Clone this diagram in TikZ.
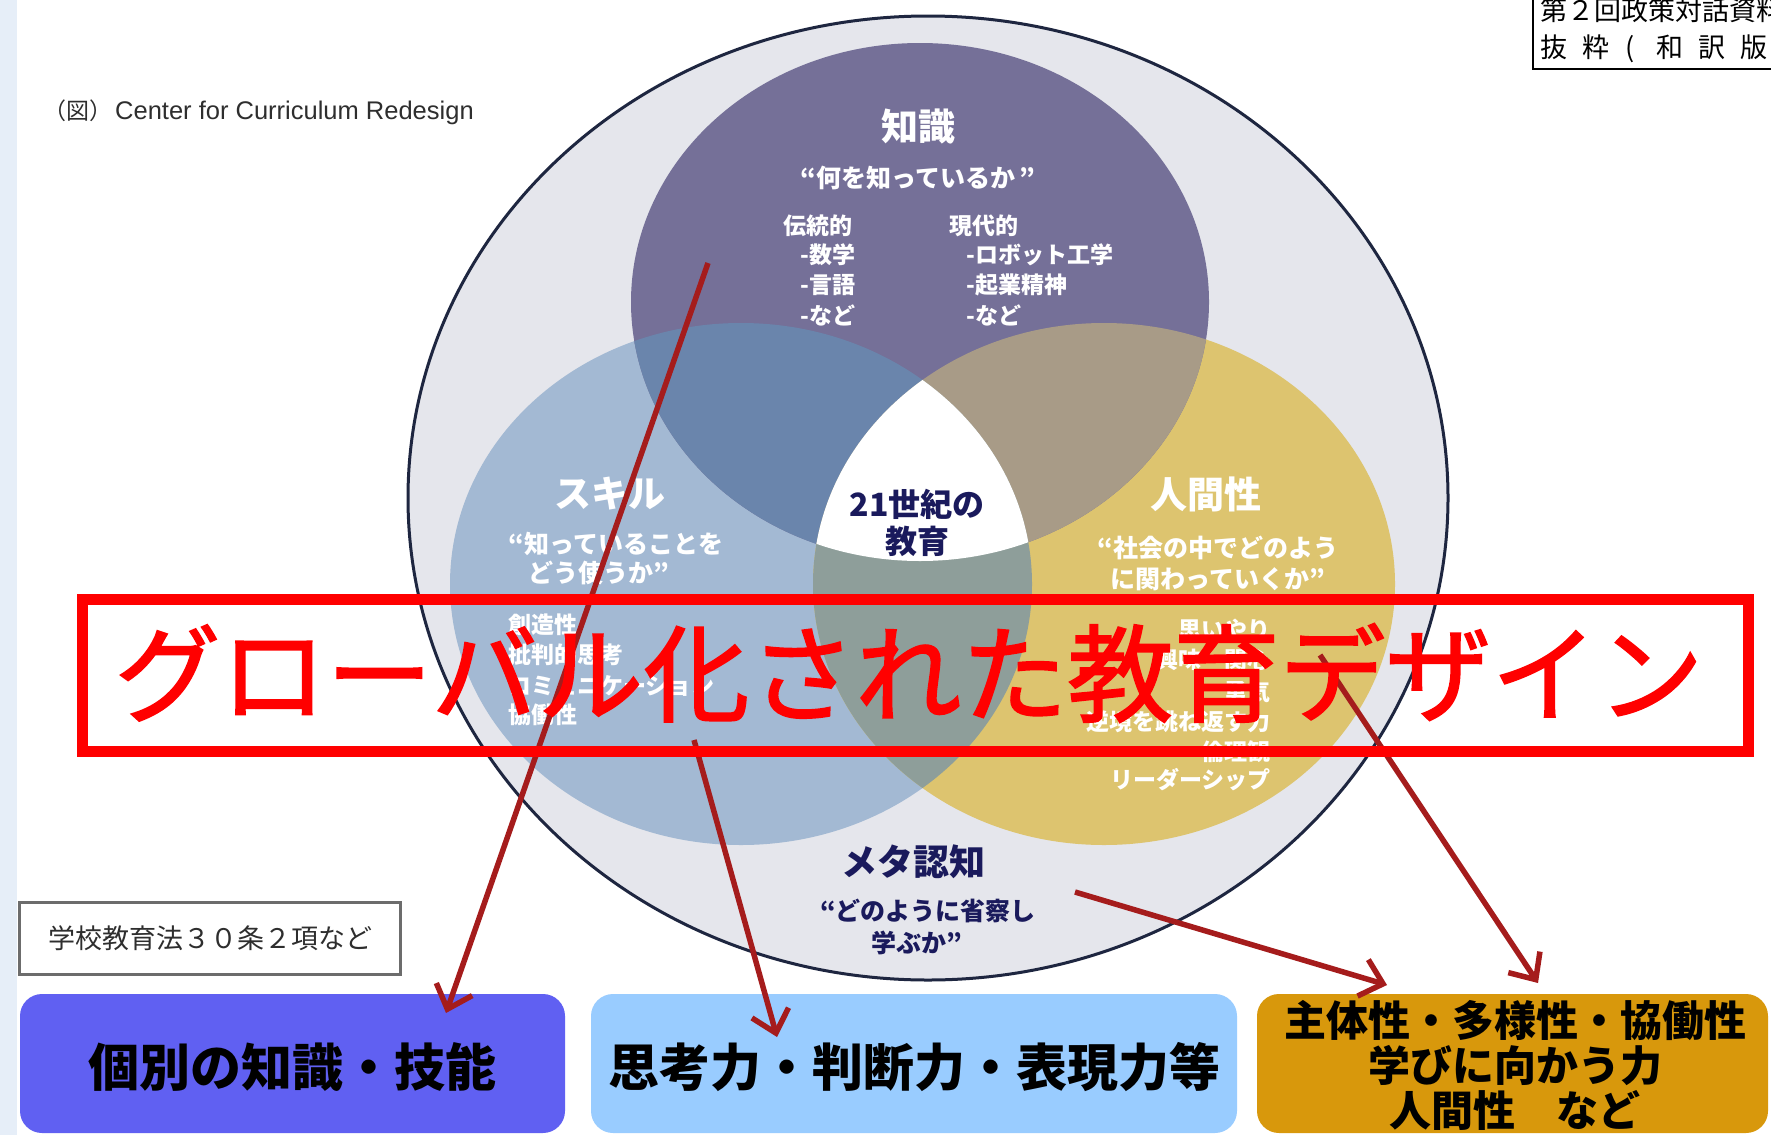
\documentclass[tikz,border=0pt]{standalone}
\usepackage{fontspec}
\setmainfont{Liberation Sans}
\newfontfamily\jp{Noto Sans CJK JP}
\newfontfamily\banfont[FakeBold=1.6]{Noto Sans CJK JP}
\usetikzlibrary{arrows.meta}
\definecolor{bigfill}{HTML}{E5E6EC}
\definecolor{bigline}{HTML}{1E2640}
\definecolor{kcol}{HTML}{757098}
\definecolor{scol}{HTML}{A3B9D3}
\definecolor{ccol}{HTML}{DDC46F}
\definecolor{kscol}{HTML}{6A85AC}
\definecolor{kccol}{HTML}{A89B87}
\definecolor{sccol}{HTML}{8E9E9A}
\definecolor{navy}{HTML}{1A1A5C}
\definecolor{arrowred}{HTML}{A51C1C}
\definecolor{box1}{HTML}{6060F2}
\definecolor{box2}{HTML}{99CCFF}
\definecolor{box3}{HTML}{D8980C}
\definecolor{strip}{HTML}{E6EEF8}
\definecolor{captxt}{HTML}{2E2E2E}
\begin{document}
\begin{tikzpicture}[x=1pt,y=-1pt,
  ttl/.style={text=white, font=\jp\bfseries\fontsize{37}{40}\selectfont, inner sep=0pt},
  qt/.style={text=white, font=\jp\bfseries\fontsize{25}{30}\selectfont, inner sep=0pt},
  lst/.style={text=white, font=\jp\bfseries\fontsize{23}{30}\selectfont, inner sep=0pt},
  nvttl/.style={text=navy, font=\jp\bfseries\fontsize{36}{40}\selectfont, inner sep=0pt},
  nvtxt/.style={text=navy, font=\jp\bfseries\fontsize{25}{30}\selectfont, inner sep=0pt},
  resbox/.style={rounded corners=22pt, inner sep=0pt},
  restxt/.style={text=black, font=\jp\bfseries\fontsize{51}{56}\selectfont, inner sep=0pt},
  arr/.style={draw=arrowred, line width=5.5pt, -{Straight Barb[length=21pt,width=38pt]}},
  trtxt/.style={anchor=base west, inner sep=0pt, font=\jp\fontsize{27}{28}\selectfont},
]
\useasboundingbox (0,0) rectangle (1771,1135);
\fill[white] (0,0) rectangle (1771,1135);
\fill[strip] (0,0) rectangle (17,1135);

% outer circle
\filldraw[fill=bigfill, draw=bigline, line width=3pt] (928,498) ellipse [x radius=520, y radius=482];

% Venn circles
\fill[scol] (741,584) ellipse [x radius=291, y radius=261];
\fill[ccol] (1104,584) ellipse [x radius=291, y radius=261];
\fill[kcol] (920,302) ellipse [x radius=289, y radius=259];
\begin{scope}
  \clip (920,302) ellipse [x radius=289, y radius=259];
  \fill[kscol] (741,584) ellipse [x radius=291, y radius=261];
\end{scope}
\begin{scope}
  \clip (920,302) ellipse [x radius=289, y radius=259];
  \fill[kccol] (1104,584) ellipse [x radius=291, y radius=261];
\end{scope}
\begin{scope}
  \clip (741,584) ellipse [x radius=291, y radius=261];
  \fill[sccol] (1104,584) ellipse [x radius=291, y radius=261];
\end{scope}
\begin{scope}
  \clip (920,302) ellipse [x radius=289, y radius=259];
  \clip (741,584) ellipse [x radius=291, y radius=261];
  \fill[white] (1104,584) ellipse [x radius=291, y radius=261];
\end{scope}

% Knowledge texts
\node[ttl] (kt) at (918,127) {知識};
\node[qt] (kq) at (918,178) {“何を知っているか\,”};
\node[lst, anchor=west] (k1) at (783,226) {伝統的};
\node[lst, anchor=west] (k2) at (800,255) {-数学};
\node[lst, anchor=west] (k3) at (800,285) {-言語};
\node[lst, anchor=west] (k4) at (800,315) {-など};
\node[lst, anchor=west] (k5) at (949,226) {現代的};
\node[lst, anchor=west] (k6) at (966,255) {-ロボット工学};
\node[lst, anchor=west] (k7) at (966,285) {-起業精神};
\node[lst, anchor=west] (k8) at (966,315) {-など};

% Skills texts
\node[ttl] (st) at (610,494) {スキル};
\node[qt] (sq1) at (616,544) {“知っていることを};
\node[qt] (sq2) at (599,573) {どう使うか”};
\node[lst, anchor=west] (s1) at (508,625) {創造性};
\node[lst, anchor=west] (s2) at (508,655) {批判的思考};
\node[lst, anchor=west] (s3) at (508,686) {コミュニケーション};
\node[lst, anchor=west] (s4) at (508,715) {協働性};

% Character texts
\node[ttl] (ct) at (1206,494) {人間性};
\node[qt] (cq1) at (1218,548) {“社会の中でどのよう};
\node[qt] (cq2) at (1218,579) {に関わっていくか”};
\node[lst, anchor=east] (c1) at (1271,630) {思いやり};
\node[lst, anchor=east] (c2) at (1271,660) {興味・関心};
\node[lst, anchor=east] (c3) at (1271,692) {勇気};
\node[lst, anchor=east] (c4) at (1271,722) {逆境を跳ね返す力};
\node[lst, anchor=east] (c5) at (1271,752) {倫理観};
\node[lst, anchor=east] (c6) at (1271,780) {リーダーシップ};

% center
\node[nvttl, font=\jp\bfseries\fontsize{32}{36}\selectfont] (ce1) at (917,504) {21世紀の};
\node[nvttl, font=\jp\bfseries\fontsize{32}{36}\selectfont] (ce2) at (917,541) {教育};

% meta
\node[nvttl] (mt) at (913,862) {メタ認知};
\node[nvtxt] (mq1) at (928,911) {“どのように省察し};
\node[nvtxt] (mq2) at (917,943) {学ぶか”};

% caption
\node[anchor=west, inner sep=0pt, text=captxt, font=\fontsize{25.5}{28}\selectfont] (cap) at (43,112)
  {{\jp\fontsize{23}{26}\selectfont （図）}\hspace{3pt}Center for Curriculum Redesign};

% top right box
\draw[line width=2.5pt, black] (1533,-10) rectangle (1800,69);
\node[trtxt] (tr1) at (1540,20) {第２回政策対話資料};
\node[trtxt] (tr2) at (1540,57)
  {抜\hspace{15pt}粋\hspace{16pt}(\hspace{22pt}和\hspace{15pt}訳\hspace{15pt}版};

% law box
\node[draw=gray!85!black, line width=3pt, minimum width=381pt, minimum height=72pt, inner sep=0pt,
      text=captxt, font=\jp\fontsize{27}{30}\selectfont] (law) at (210,938) {学校教育法３０条２項など};

% result boxes
\node[resbox, fill=box1, minimum width=545pt, minimum height=139pt] (b1) at (292.5,1063.5) {};
\node[resbox, fill=box2, minimum width=646pt, minimum height=139pt] (b2) at (914,1063.5) {};
\node[resbox, fill=box3, minimum width=511pt, minimum height=139pt] (b3) at (1512.5,1063.5) {};
\node[restxt] (b1t) at (292,1067) {個別の知識・技能};
\node[restxt] (b2t) at (914,1067) {思考力・判断力・表現力等};
\node[restxt, font=\jp\bfseries\fontsize{42}{45}\selectfont, align=center] (b3t) at (1515,1065)
  {主体性・多様性・協働性\\学びに向かう力\\人間性\hspace{1em}など};

% arrows
\coordinate (a1s) at (708,263);
\coordinate (a1e) at (446,1013);
\coordinate (a2s) at (694,740);
\coordinate (a2e) at (777,1037);
\coordinate (a3s) at (1075,892);
\coordinate (a3e) at (1387,985);
\coordinate (a4s) at (1320,655);
\coordinate (a4e) at (1538,983);
\draw[arr] (a1s) -- (a1e);
\draw[arr] (a2s) -- (a2e);
\draw[arr] (a3s) -- (a3e);
\draw[arr] (a4s) -- (a4e);

% banner
\draw[red, line width=11pt] (82,599) rectangle (1748,751);
\node[text=red, inner sep=0pt, font=\banfont\fontsize{106}{110}\selectfont] (ban) at (909,673) {グローバル化された教育デザイン};
\end{tikzpicture}
\end{document}
